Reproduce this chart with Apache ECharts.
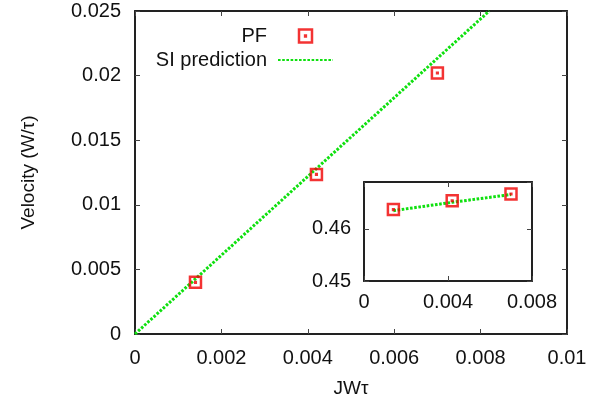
<!DOCTYPE html>
<html>
<head>
<meta charset="utf-8">
<script src="https://cdn.jsdelivr.net/npm/echarts@6/dist/echarts.min.js"></script>
<style>
  html, body { margin: 0; padding: 0; background: #fff; }
  #chart { width: 604px; height: 403px; }
</style>
</head>
<body>
<div id="chart"></div>
<script>
// main panel: PF simulation points and SI prediction line
const pfX = [0.0014, 0.0042, 0.0070];
const pfV = [0.0040, 0.01235, 0.0202];
const siX = [0, 0.0082];
const siV = [0, 0.025];

// inset panel
const insetX = [0.0014, 0.0042, 0.0070];
const insetPF = [0.4637, 0.4654, 0.4667];
const insetSI = [0.4635, 0.4651, 0.4666];

const names = ['PF', 'SI prediction'];

const FONT = 'Liberation Sans';
const RED = '#f00000';
const GREEN = '#0fe00f';
const squareIcon = 'path://M0,0H10V10H0ZM4.7,4.7H5.3V5.3H4.7Z';

const pairs = (xs, ys) => xs.map((x, i) => [x, ys[i]]);

// one frame side: bottom/left get labels, top/right only ticks
const axis = (type, opts, labels) => Object.assign({
    type: 'value',
    splitLine: { show: false },
    axisLine: { show: true, onZero: false, lineStyle: { color: '#222', width: 2 } },
    axisTick: { show: true, inside: true, length: 5, lineStyle: { color: '#444', width: 1 } },
    axisLabel: labels ? Object.assign({
        show: true, color: '#111', fontFamily: FONT, fontSize: 20
    }, labels) : { show: false }
}, opts);

const chart = echarts.init(document.getElementById('chart'), null, { renderer: 'canvas' });

const option = {
    animation: false,
    backgroundColor: '#fff',
    textStyle: { fontFamily: FONT },
    grid: [
        { left: 135, top: 11, right: 37, bottom: 68 },
        { left: 364, top: 182, width: 168, height: 99, show: true, backgroundColor: '#fff', borderWidth: 0 }
    ],
    xAxis: [
        axis('x', {
            gridIndex: 0, position: 'bottom', min: 0, max: 0.01, interval: 0.002,
            name: 'JWτ', nameLocation: 'middle', nameGap: 45,
            nameTextStyle: { color: '#111', fontFamily: FONT, fontSize: 19 }
        }, { margin: 14 }),
        axis('x', { gridIndex: 0, position: 'top', min: 0, max: 0.01, interval: 0.002 }),
        axis('x', { gridIndex: 1, position: 'bottom', min: 0, max: 0.008, interval: 0.004 }, { margin: 11 }),
        axis('x', { gridIndex: 1, position: 'top', min: 0, max: 0.008, interval: 0.004 })
    ],
    yAxis: [
        axis('y', {
            gridIndex: 0, position: 'left', min: 0, max: 0.025, interval: 0.005,
            name: 'Velocity (W/τ)', nameLocation: 'middle', nameGap: 97, nameRotate: 90,
            nameTextStyle: { color: '#111', fontFamily: FONT, fontSize: 19 }
        }, { margin: 14 }),
        axis('y', { gridIndex: 0, position: 'right', min: 0, max: 0.025, interval: 0.005 }),
        axis('y', { gridIndex: 1, position: 'left', min: 0.45, max: 0.469, interval: 0.01 },
            { margin: 13, showMaxLabel: false }),
        axis('y', { gridIndex: 1, position: 'right', min: 0.45, max: 0.469, interval: 0.01 })
    ],
    legend: {
        orient: 'vertical',
        align: 'right',
        right: 265,
        top: 21,
        itemWidth: 55,
        itemHeight: 13,
        itemGap: 4,
        selectedMode: false,
        textStyle: { color: '#111', fontFamily: FONT, fontSize: 20, lineHeight: 20, padding: [0, 6, 0, 0] },
        data: [
            { name: names[0], icon: squareIcon, itemStyle: { color: 'rgba(0,0,0,0)', borderColor: RED, borderWidth: 2.5 } },
            { name: names[1], itemStyle: { color: 'rgba(0,0,0,0)', borderColor: 'rgba(0,0,0,0)', borderWidth: 0, opacity: 0 } }
        ]
    },
    series: [
        {
            name: names[1], type: 'line', xAxisIndex: 0, yAxisIndex: 0,
            data: pairs(siX, siV), symbol: 'none', showSymbol: false, z: 2,
            lineStyle: { color: GREEN, width: 3, type: [2.6, 1.6] },
            itemStyle: { color: GREEN }
        },
        {
            name: names[0], type: 'scatter', xAxisIndex: 0, yAxisIndex: 0,
            data: pairs(pfX, pfV), symbol: squareIcon, symbolSize: 11, z: 3,
            itemStyle: { color: 'rgba(0,0,0,0)', borderColor: RED, borderWidth: 2.5 }
        },
        {
            name: names[1], type: 'line', xAxisIndex: 2, yAxisIndex: 2,
            data: pairs(insetX, insetSI), symbol: 'none', showSymbol: false, z: 2,
            lineStyle: { color: GREEN, width: 3, type: [2.6, 1.6] },
            itemStyle: { color: GREEN }
        },
        {
            name: names[0], type: 'scatter', xAxisIndex: 2, yAxisIndex: 2,
            data: pairs(insetX, insetPF), symbol: squareIcon, symbolSize: 11, z: 3,
            itemStyle: { color: 'rgba(0,0,0,0)', borderColor: RED, borderWidth: 2.5 }
        }
    ]
};

chart.setOption(option);
</script>
</body>
</html>
